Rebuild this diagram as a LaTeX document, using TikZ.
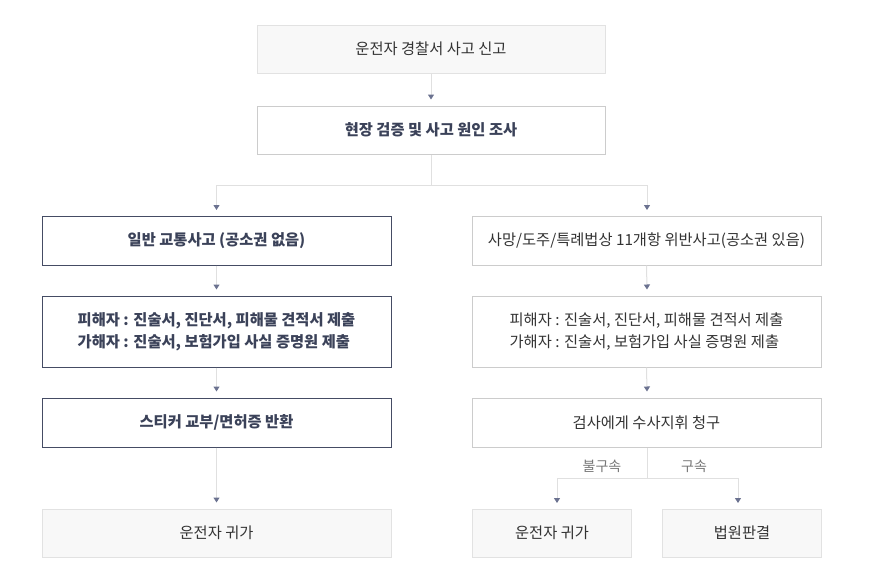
\documentclass[tikz,border=0pt]{standalone}
\usepackage{fontspec}
\setmainfont{Noto Sans CJK KR}
\newfontfamily\kr{Noto Sans CJK KR}
\usetikzlibrary{arrows.meta}
\definecolor{navy}{HTML}{454C64}
\definecolor{navytext}{HTML}{3B4259}
\definecolor{lightborder}{HTML}{E2E2E2}
\definecolor{midborder}{HTML}{CCCCCC}
\definecolor{softfill}{HTML}{F8F8F8}
\definecolor{linec}{HTML}{E0E0E0}
\definecolor{arrowc}{HTML}{6B7290}
\definecolor{darktext}{HTML}{333333}
\definecolor{labeltext}{HTML}{777777}
\tikzset{
  box/.style={rectangle, inner sep=0pt, font=\kr\fontsize{15.3}{22}\selectfont, text=darktext, line width=1pt},
  softbox/.style={box, draw=lightborder, fill=softfill},
  greybox/.style={box, draw=midborder, fill=white},
  navybox/.style={box, draw=navy, fill=white, text=navytext, font=\kr\bfseries\fontsize{15.3}{22}\selectfont},
  conn/.style={draw=linec, line width=1pt},
  arr/.style={conn, -{Triangle[width=6pt,length=5pt,color=arrowc,fill=arrowc]}},
  branchlabel/.style={font=\kr\fontsize{14}{16}\selectfont, text=labeltext, inner sep=0pt}
}
\begin{document}
\begin{tikzpicture}[x=1pt,y=-1pt]
\useasboundingbox (0,0) rectangle (869,581);
\fill[white] (0,0) rectangle (869,581);
\node[softbox, minimum width=348pt, minimum height=48pt] (top) at (431,49) {운전자 경찰서 사고 신고};
\node[greybox, minimum width=348pt, minimum height=48pt, text=navytext, font=\kr\bfseries\fontsize{15.3}{22}\selectfont] (inv) at (431,130) {현장 검증 및 사고 원인 조사};
\node[navybox, minimum width=349pt, minimum height=49pt] (L1) at (216.5,240.5) {일반 교통사고 (공소권 없음)};
\node[greybox, minimum width=349pt, minimum height=49pt] (R1) at (646.5,240.5) {사망/도주/특례법상 11개항 위반사고(공소권 있음)};
\node[navybox, minimum width=349pt, minimum height=71pt, align=left] (L2) at (216.5,331.5) {피해자 : 진술서, 진단서, 피해물 견적서 제출\\가해자 : 진술서, 보험가입 사실 증명원 제출};
\node[greybox, minimum width=349pt, minimum height=71pt, align=left] (R2) at (646.5,331.5) {피해자 : 진술서, 진단서, 피해물 견적서 제출\\가해자 : 진술서, 보험가입 사실 증명원 제출};
\node[navybox, minimum width=349pt, minimum height=49pt] (L3) at (216.5,422.5) {스티커 교부/면허증 반환};
\node[greybox, minimum width=349pt, minimum height=49pt] (R3) at (646.5,422.5) {검사에게 수사지휘 청구};
\node[softbox, minimum width=349pt, minimum height=48pt] (L4) at (216.5,533) {운전자 귀가};
\node[softbox, minimum width=159pt, minimum height=48pt] (R4a) at (552,533) {운전자 귀가};
\node[softbox, minimum width=159pt, minimum height=48pt] (R4b) at (742,533) {법원판결};
\coordinate (split) at (431,185);
\coordinate (split2) at (647,478);
\coordinate (aL1) at (216.5,210);
\coordinate (aR1) at (647,210);
\coordinate (aR4a) at (557,503);
\coordinate (aR4b) at (738,503);
\draw[arr] (top.south) -- ([yshift=6pt]inv.north);
\draw[conn] (inv.south) -- (split);
\draw[arr] (split) -| (aL1);
\draw[arr] (split) -| (aR1);
\draw[arr] (L1.south) -- ([yshift=6pt]L2.north);
\draw[arr] (R1.south) -- ([xshift=0.5pt,yshift=6pt]R2.north);
\draw[arr] (L2.south) -- ([yshift=6pt]L3.north);
\draw[arr] (R2.south) -- ([xshift=0.5pt,yshift=6pt]R3.north);
\draw[arr] (L3.south) -- ([yshift=6pt]L4.north);
\draw[conn] ([xshift=0.5pt]R3.south) -- (split2);
\draw[arr] (split2) -| (aR4a);
\draw[arr] (split2) -| (aR4b);
\node[branchlabel] (lab1) at (602,466) {불구속};
\node[branchlabel] (lab2) at (694,466) {구속};
\end{tikzpicture}
\end{document}
